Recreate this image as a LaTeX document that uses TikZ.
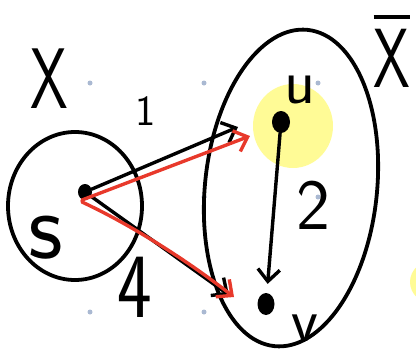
\documentclass[tikz,border=0pt]{standalone}
\usepackage{fontspec}
\usepackage{tikz}
\usetikzlibrary{positioning,shapes.geometric,arrows.meta,calc}
\definecolor{ink}     {HTML}{000000}
\definecolor{redpen}  {HTML}{E8392B}
\definecolor{marker}  {HTML}{FFFB96}
\definecolor{griddot} {HTML}{AAB9D2}
\newcommand\barred[1]{\vbox{\hrule height 3.4pt\kern 11pt\hbox{#1}}}
\tikzset{
  >=stealth,
  % --- nodes
  blob/.style  = {ellipse, draw=ink, line width=3.8pt, inner sep=0pt},
  vert/.style  = {ellipse, fill=ink, inner sep=0pt},
  hand/.style  = {text=ink, inner sep=0pt, font=\sffamily\fontsize{#1}{#1}\selectfont},
  % --- edges
  e/.style     = {-{Straight Barb[length=12pt,width=22pt,line width=3.4pt]}, line width=3.4pt,
                  draw=ink, line cap=round, line join=round},
  er/.style    = {e, draw=redpen},
}

\begin{document}
\begin{tikzpicture}[x=1pt,y=-1pt]
  \useasboundingbox (0,0) rectangle (416,364);
  % highlighter
  \fill[marker] (293,126) ellipse (40 and 42);
  \fill[marker] (434,282) ellipse (24 and 22);
  \foreach \x/\y in {90/83,204/83,318/83,204/197,318/197,90/312,204/312}
    \fill[griddot] (\x,\y) circle (2.5);
  % the two sides of the cut
  \node[blob, minimum width=134pt, minimum height=148pt] (X) at (75,206) {};
  \node[blob, minimum width=172pt, minimum height=318pt, rotate=-6] (Xbar) at (291,188) {};
  % vertices
  \node[vert, minimum width=14pt, minimum height=16pt] (s) at (85,192) {};
  \node[vert, minimum width=18pt, minimum height=22pt] (u) at (281,122) {};
  \node[vert, minimum width=17pt, minimum height=22pt] (v) at (266,304) {};
  \coordinate (uend)  at (238,127);
  \coordinate (vend)  at (229,295);
  \coordinate (uendr) at (250,136);
  \coordinate (vendr) at (234,297);
  % edges
  \draw[e] (s) -- (uend);
  \draw[e] (s) -- (vend);
  \draw[e, shorten >=9pt] (u) -- (v);
  \draw[er] ([shift={(-3,8)}]s.center) -- (uendr);
  \draw[er] ([shift={(-3,10)}]s.center) .. controls (125,222) and (180,255) .. (vendr);
  % labels
  \node[hand=86, xscale=0.7] (lX)    at (49,79)   {X};
  \node[hand=43]             (l1)    at (146,111) {1};
  \node[hand=92, xscale=0.8] (l4)    at (135,287) {4};
  \node[hand=96]             (ls)    at (46,238)  {s};
  \node[hand=64]             (lu)    at (300,90)  {u};
  \node[hand=72]             (l2)    at (313,205) {2};
  \node[hand=62]             (lv)    at (305,328) {v};
  \node[hand=84, xscale=0.7, anchor=base] (lXbar) at (392,88) {\barred{X}};
\end{tikzpicture}
\end{document}
